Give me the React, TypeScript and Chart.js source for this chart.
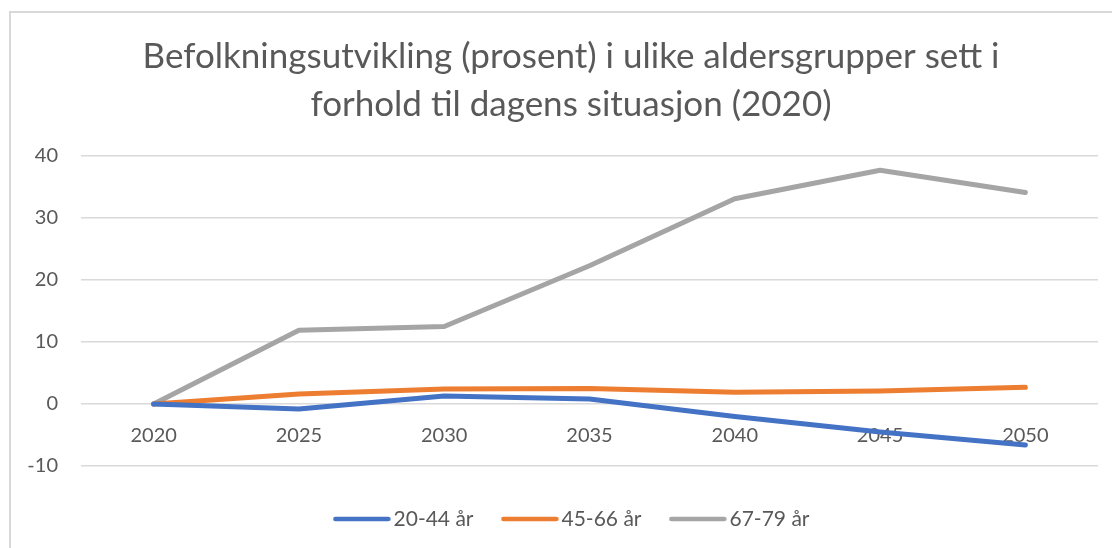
import React, { useEffect, useRef } from "react";
import { Chart, registerables } from "chart.js";

Chart.register(...registerables);

const years = ["2020", "2025", "2030", "2035", "2040", "2045", "2050"];
const age20to44 = [0, -0.8, 1.3, 0.8, -2.0, -4.5, -6.6];
const age45to66 = [0, 1.6, 2.4, 2.5, 1.9, 2.1, 2.7];
const age67to79 = [0, 11.9, 12.5, 22.3, 33.1, 37.7, 34.1];
const titleLines = [
  "Befolkningsutvikling (prosent) i ulike aldersgrupper sett i",
  "forhold til dagens situasjon (2020)",
];
const seriesLabels = ["20-44 år", "45-66 år", "67-79 år"];
const seriesColors = ["#4472C4", "#ED7D31", "#A5A5A5"];

const FONT = "Lato, 'Open Sans', sans-serif";
const TEXT = "#595959";

function legendLine(color: string): HTMLCanvasElement {
  const c = document.createElement("canvas");
  c.width = 58;
  c.height = 8;
  const ctx = c.getContext("2d")!;
  ctx.strokeStyle = color;
  ctx.lineWidth = 4.5;
  ctx.lineCap = "round";
  ctx.beginPath();
  ctx.moveTo(2.5, 4);
  ctx.lineTo(55.5, 4);
  ctx.stroke();
  return c;
}

// Excel centres title and legend on the full chart frame (which runs past the right edge)
const frameCentering = {
  id: "frameCentering",
  afterLayout(chart: any) {
    if (chart.titleBlock) {
      chart.titleBlock.left = 9;
      chart.titleBlock.right = 1133;
    }
    if (chart.legend) {
      chart.legend.left = 13;
      chart.legend.right = 1137;
    }
  },
};

export default function App() {
  const ref = useRef<HTMLCanvasElement | null>(null);

  useEffect(() => {
    if (!ref.current) return;
    const mk = (label: string, data: number[], color: string) => ({
      label,
      data,
      borderColor: color,
      backgroundColor: color,
      borderWidth: 5,
      borderCapStyle: "round" as const,
      borderJoinStyle: "round" as const,
      pointRadius: 0,
      pointHoverRadius: 0,
      pointStyle: legendLine(color) as any,
      tension: 0,
    });
    const chart = new Chart(ref.current, {
      type: "line",
      data: {
        labels: years,
        datasets: [
          mk(seriesLabels[0], age20to44, seriesColors[0]),
          mk(seriesLabels[1], age45to66, seriesColors[1]),
          mk(seriesLabels[2], age67to79, seriesColors[2]),
        ],
      },
      plugins: [frameCentering],
      options: {
        animation: false,
        responsive: true,
        maintainAspectRatio: false,
        layout: { padding: { left: 0, right: 14, top: 0, bottom: 8.5 } },
        plugins: {
          tooltip: { enabled: false },
          title: {
            display: true,
            text: titleLines,
            color: TEXT,
            font: { family: FONT, size: 35, weight: "normal", lineHeight: 48 / 35 },
            padding: { top: 33, bottom: 27 },
          },
          legend: {
            display: true,
            position: "bottom",
            title: {
              display: true,
              text: "",
              font: { size: 1, lineHeight: 1 },
              padding: { top: 6.5, bottom: 0 },
            },
            labels: {
              usePointStyle: true,
              pointStyleWidth: 42.5,
              boxHeight: 21,
              color: TEXT,
              font: { family: FONT, size: 21 },
              padding: 35,
            },
          },
        },
        scales: {
          x: {
            type: "category",
            offset: true,
            position: { y: 0 } as any,
            grid: { display: false, drawTicks: false },
            border: { display: false },
            ticks: {
              color: TEXT,
              font: { family: FONT, size: 20 },
              padding: 20,
              maxRotation: 0,
              autoSkip: false,
            },
          },
          y: {
            min: -10,
            max: 40,
            afterFit: (s: any) => {
              s.width = 81;
            },
            ticks: {
              stepSize: 10,
              color: TEXT,
              font: { family: FONT, size: 20 },
              padding: 23,
            },
            grid: { color: "#D9D9D9", lineWidth: 1.5, drawTicks: false },
            border: { display: false },
          },
        },
      },
    });
    return () => chart.destroy();
  }, []);

  return (
    <div style={{ position: "absolute", left: 0, top: 0, width: 1112, height: 548, background: "#fff", overflow: "hidden" }}>
      <div
        style={{
          position: "absolute",
          left: 9,
          top: 11,
          width: 1103,
          height: 537,
          boxSizing: "border-box",
          borderTop: "2px solid #D9D9D9",
          borderLeft: "2px solid #D9D9D9",
        }}
      />
      <div style={{ position: "absolute", left: 0, top: 0, width: 1112, height: 548 }}>
        <canvas ref={ref} />
      </div>
    </div>
  );
}
